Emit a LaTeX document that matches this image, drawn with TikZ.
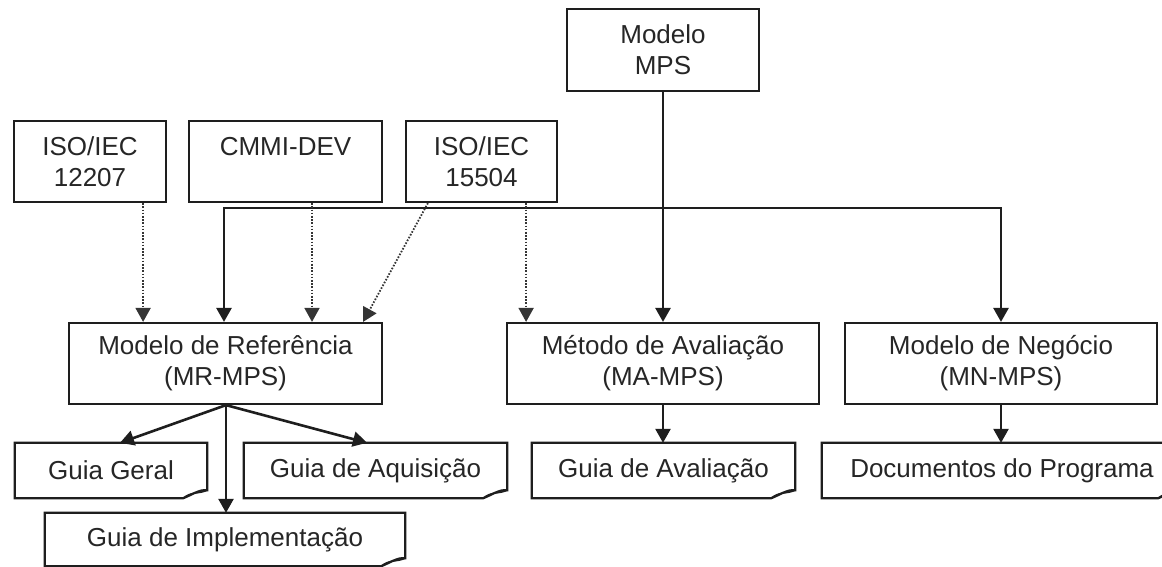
\documentclass[tikz,border=0pt]{standalone}
\usepackage{fontspec}
\setmainfont{Liberation Sans}
\usetikzlibrary{arrows.meta,calc}
\definecolor{ink}{HTML}{1E1E1E}
\definecolor{txt}{HTML}{262626}
\tikzset{
  box/.style={draw=ink, line width=2.2pt, inner sep=0pt, align=center, text=txt,
     font=\fontsize{26}{31}\selectfont},
  docbox/.style={inner sep=0pt, align=center, text=txt, font=\fontsize{26}{31}\selectfont},
  boxline/.style={draw=ink, line width=2.2pt, line join=miter},
  solidarrow/.style={draw=ink, line width=2.6pt, -{Triangle[width=15pt,length=14pt]}},
  dotarrow/.style={draw=ink!90, line width=1.8pt, dash pattern=on 1.6pt off 1.6pt,
     -{Triangle[width=15pt,length=14pt]}},
}
\newcommand\docoutline[1]{%
  \draw[boxline] (#1.south west) -- (#1.north west) -- (#1.north east) -- ($(#1.south east)+(0,-8)$)
    .. controls ($(#1.south east)+(-8,-9)$) and ($(#1.south east)+(-16,-3)$) .. ($(#1.south east)+(-24,0)$) -- cycle;
  \draw[draw=ink, line width=1.5pt] ($(#1.south east)+(-24,0)$) .. controls ($(#1.south east)+(-16,-7)$) and ($(#1.south east)+(-8,-4)$) .. ($(#1.south east)+(0,-8)$);
}
\begin{document}
\begin{tikzpicture}[x=1pt,y=-1pt]
\useasboundingbox[fill=white] (0,0) rectangle (1162,567);

% top boxes
\node[box, minimum width=192pt, minimum height=82pt] (mps) at (663,50) {Modelo\\MPS};
\node[box, minimum width=152pt, minimum height=81pt] (iso12207) at (90,161.5) {ISO/IEC\\12207};
\node[box, minimum width=193pt, minimum height=81pt] (cmmi) at (285.5,161.5) {CMMI-DEV\\\mbox{}};
\node[box, minimum width=151pt, minimum height=81pt] (iso15504) at (481.5,161.5) {ISO/IEC\\15504};

% middle boxes
\node[box, minimum width=313pt, minimum height=81pt] (mr) at (225.5,363.5) {Modelo de Referência\\(MR-MPS)};
\node[box, minimum width=312pt, minimum height=81pt] (met) at (663,363.5) {Método de Avaliação\\(MA-MPS)};
\node[box, minimum width=312pt, minimum height=81pt] (neg) at (1001,363.5) {Modelo de Negócio\\(MN-MPS)};

% documents
\node[docbox, minimum width=192pt, minimum height=55pt] (gg) at (111,470.5) {Guia Geral};
\node[docbox, minimum width=263pt, minimum height=55pt] (gaq) at (375.5,470.5) {Guia de Aquisição};
\node[docbox, minimum width=360pt, minimum height=53pt] (gimp) at (225,539.5) {Guia de Implementação};
\node[docbox, minimum width=263pt, minimum height=55pt] (gav) at (663.5,470.5) {Guia de Avaliação};
\node[docbox, minimum width=360pt, minimum height=55pt] (doc) at (1002,470.5) {Documentos do Programa};
\docoutline{gg}
\docoutline{gaq}
\docoutline{gimp}
\docoutline{gav}
\docoutline{doc}

% MPS connections
\coordinate (bar) at ($(mps.south)+(0,116)$);
\draw[solidarrow] (mps.south) -- (met.north);
\draw[solidarrow] (bar) -| ($(mr.north)+(-1.5,0)$);
\draw[solidarrow] (bar) -| (neg.north);

% dotted influences
\coordinate (d1) at ($(iso12207.south east)+(-24,0)$);
\draw[dotarrow] (d1) -- (d1 |- mr.north);
\coordinate (d2) at ($(cmmi.south)+(26.5,0)$);
\draw[dotarrow] (d2) -- (d2 |- mr.north);
\coordinate (d3) at ($(iso15504.south west)+(23,0)$);
\coordinate (d3e) at ($(mr.north east)+(-20,0)$);
\draw[dotarrow] (d3) -- (d3e);
\coordinate (d4) at ($(iso15504.south east)+(-32,0)$);
\draw[dotarrow] (d4) -- (d4 |- met.north);

% lower connections
\draw[solidarrow] (met.south) -- (gav.north -| met.south);
\draw[solidarrow] (neg.south) -- (doc.north -| neg.south);
\coordinate (mrb) at ($(mr.south)+(0.5,0)$);
\draw[solidarrow] (mrb) -- ($(gg.north)+(9,0)$);
\draw[solidarrow] (mrb) -- ($(gaq.north)+(-8.5,0)$);
\draw[solidarrow] (mrb) -- (mrb |- gimp.north);
\end{tikzpicture}
\end{document}
